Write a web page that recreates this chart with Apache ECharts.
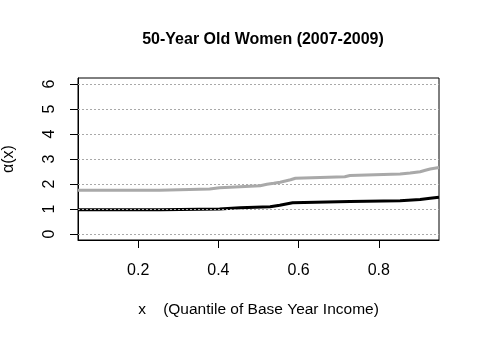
<!DOCTYPE html>
<html>
<head>
    <meta charset="utf-8">
    <title>50-Year Old Women</title>
    <script type="text/javascript" src="https://cdn.jsdelivr.net/npm/echarts@6/dist/echarts.min.js"></script>
    <style>
        html, body { margin: 0; padding: 0; background: #fff; }
    </style>
</head>
<body>
    <div id="main" style="width:480px;height:338px;"></div>
    <script type="text/javascript">
        // step curves: x where each level starts, and the level
        var grayX  = [0.05, 0.253, 0.378, 0.403, 0.454, 0.504, 0.521, 0.538, 0.554, 0.567, 0.580, 0.592, 0.715, 0.728, 0.853, 0.878, 0.903, 0.916, 0.928, 0.95];
        var grayY  = [1.75, 1.80, 1.85, 1.89, 1.93, 1.99, 2.03, 2.07, 2.12, 2.17, 2.23, 2.29, 2.34, 2.40, 2.44, 2.49, 2.55, 2.60, 2.66, 2.66];
        var blackX = [0.05, 0.255, 0.403, 0.454, 0.529, 0.553, 0.569, 0.585, 0.728, 0.853, 0.903, 0.928, 0.95];
        var blackY = [0.97, 1.00, 1.05, 1.09, 1.15, 1.20, 1.25, 1.30, 1.33, 1.38, 1.43, 1.47, 1.47];
        var xTicks = [0.2, 0.4, 0.6, 0.8];
        var yTicks = [0, 1, 2, 3, 4, 5, 6];

        var font = 'Liberation Sans, Arial, sans-serif';

        function zip(xs, ys) {
            var out = [];
            for (var i = 0; i < xs.length; i++) {
                out.push([xs[i], ys[i]]);
            }
            return out;
        }

        var gridLines = [];
        for (var i = 0; i < yTicks.length; i++) {
            gridLines.push({ yAxis: yTicks[i] });
        }

        var myChart = echarts.init(document.getElementById('main'));

        var option = {
            animation: false,
            backgroundColor: '#fff',
            title: {
                text: '50-Year Old Women (2007-2009)',
                left: 258,
                top: 27,
                textAlign: 'center',
                textStyle: { fontFamily: font, fontSize: 16, fontWeight: 'bold', color: '#000' }
            },
            grid: {
                left: 78, right: 41, top: 78, bottom: 98,
                containLabel: false,
                outerBoundsMode: 'none',
                show: true, borderColor: '#000', borderWidth: 1
            },
            xAxis: {
                type: 'value',
                min: 0.05,
                max: 0.95,
                name: 'x    (Quantile of Base Year Income)',
                nameLocation: 'middle',
                nameGap: 62,
                nameTextStyle: { fontFamily: font, fontSize: 15.5, color: '#000' },
                axisLine: { show: true, onZero: false, lineStyle: { color: '#000' } },
                axisTick: { show: true, length: 8, customValues: xTicks, lineStyle: { color: '#000' } },
                axisLabel: {
                    customValues: xTicks,
                    margin: 23,
                    fontFamily: font, fontSize: 16, color: '#000',
                    formatter: function (v) { return v.toFixed(1); }
                },
                splitLine: { show: false }
            },
            yAxis: {
                type: 'value',
                min: -0.24,
                max: 6.24,
                name: 'α(x)',
                nameLocation: 'middle',
                nameRotate: 90,
                nameGap: 61,
                nameTextStyle: { fontFamily: font, fontSize: 16, color: '#000' },
                axisLine: { show: true, onZero: false, lineStyle: { color: '#000' } },
                axisTick: { show: true, length: 8, customValues: yTicks, lineStyle: { color: '#000' } },
                axisLabel: {
                    customValues: yTicks,
                    rotate: 90,
                    margin: 20,
                    fontFamily: font, fontSize: 16, color: '#000'
                },
                splitLine: { show: false }
            },
            series: [
                {
                    name: 'gray',
                    type: 'line',
                    step: 'end',
                    showSymbol: false,
                    data: zip(grayX, grayY),
                    lineStyle: { color: '#a9a9a9', width: 3 },
                    markLine: {
                        silent: true,
                        symbol: 'none',
                        label: { show: false },
                        lineStyle: { color: '#a9a9a9', type: [2, 2], width: 1 },
                        data: gridLines
                    }
                },
                {
                    name: 'black',
                    type: 'line',
                    step: 'end',
                    showSymbol: false,
                    data: zip(blackX, blackY),
                    lineStyle: { color: '#000', width: 3 }
                }
            ]
        };

        myChart.setOption(option);
    </script>
</body>
</html>
